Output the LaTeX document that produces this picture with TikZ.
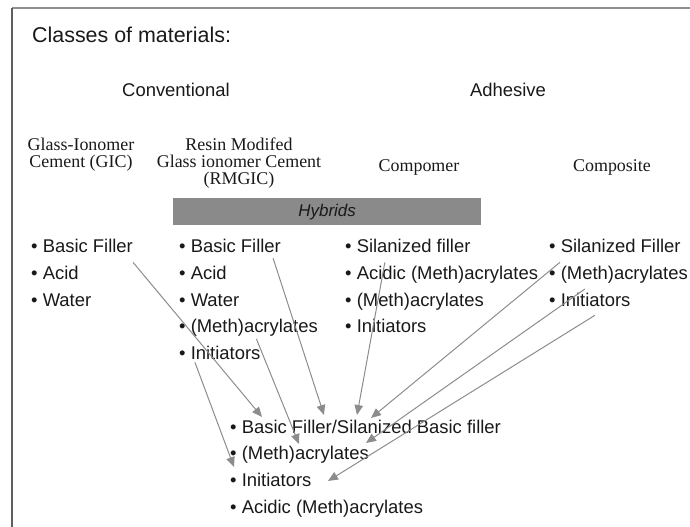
\documentclass[tikz,border=0pt]{standalone}
\usepackage{fontspec}
\setmainfont{Liberation Sans}
\newfontfamily\timesfont{Liberation Serif}
\usetikzlibrary{arrows.meta}
\definecolor{bargray}{RGB}{138,138,138}
\definecolor{arrowgray}{RGB}{140,140,140}
\definecolor{framegray}{RGB}{95,95,95}
\definecolor{inkgray}{RGB}{25,25,25}
\tikzset{
  listitem/.style={anchor=base west,inner sep=0pt,text=inkgray,font=\fontsize{18.5}{20}\selectfont},
  grouphead/.style={anchor=base,inner sep=0pt,text=inkgray,font=\fontsize{18.5}{20}\selectfont},
  classname/.style={align=center,inner sep=0pt,text=inkgray,font=\timesfont\fontsize{18}{17}\selectfont},
  mixarrow/.style={draw=arrowgray,line width=1pt,-{Triangle[length=10pt,width=8.5pt,fill=arrowgray]}}
}
\begin{document}
\begin{tikzpicture}[x=1bp,y=1bp]
\useasboundingbox (0,0) rectangle (690,-527);
\draw [framegray!70,line width=1.2pt] (12,-8) -- (690,-8);
\draw [framegray,line width=1.5pt] (12,-8) -- (12,-527);
\node [anchor=base west,inner sep=0pt,text=inkgray,font=\fontsize{21.5}{24}\selectfont] (title) at (32,-43) {Classes of materials:};
\node [grouphead] (conv) at (176,-97) {Conventional};
\node [grouphead] (adh) at (508,-97) {Adhesive};
\node [classname] (gic) at (81,-155) {Glass-Ionomer\\Cement (GIC)};
\node [classname] (rmgic) at (239,-163.5) {Resin Modifed\\Glass ionomer Cement\\(RMGIC)};
\node [classname] (compomer) at (419,-167) {Compomer};
\node [classname] (composite) at (612,-167) {Composite};
\node [anchor=north west,fill=bargray,minimum width=309,minimum height=27,inner sep=0pt,text=inkgray,font=\itshape\fontsize{17}{19}\selectfont] (hybrids) at (173,-198) {Hybrids};
\node [listitem] (gicBF) at (31,-253) {• Basic Filler};
\node [listitem] (gicAc) at (31,-279) {• Acid};
\node [listitem] (gicWa) at (31,-306) {• Water};
\node [listitem] (rmBF) at (179,-253) {• Basic Filler};
\node [listitem] (rmAc) at (179,-279) {• Acid};
\node [listitem] (rmWa) at (179,-306) {• Water};
\node [listitem] (rmMA) at (179,-332) {• (Meth)acrylates};
\node [listitem] (rmIn) at (179,-359) {• Initiators};
\node [listitem] (cmSF) at (345,-253) {• Silanized filler};
\node [listitem] (cmAM) at (345,-279) {• Acidic (Meth)acrylates};
\node [listitem] (cmMA) at (345,-306) {• (Meth)acrylates};
\node [listitem] (cmIn) at (345,-332) {• Initiators};
\node [listitem] (csSF) at (549,-253) {• Silanized Filler};
\node [listitem] (csMA) at (549,-279) {• (Meth)acrylates};
\node [listitem] (csIn) at (549,-306) {• Initiators};
\node [listitem] (mixFi) at (230,-433) {• Basic Filler/Silanized Basic filler};
\node [listitem] (mixMA) at (230,-459) {• (Meth)acrylates};
\node [listitem] (mixIn) at (230,-486) {• Initiators};
\node [listitem] (mixAM) at (230,-513) {• Acidic (Meth)acrylates};
\coordinate (t1) at (262,-417);
\coordinate (t2) at (324,-415);
\coordinate (t3) at (299,-444);
\coordinate (t4) at (234,-467);
\coordinate (t5) at (357,-415);
\coordinate (t6) at (371,-418);
\coordinate (t7) at (366,-443);
\coordinate (t8) at (328,-481);
\draw [mixarrow] ([yshift=-9]gicBF.south east) -- (t1);
\draw [mixarrow] ([xshift=-8,yshift=-5]rmBF.south east) -- (t2);
\draw [mixarrow] ([xshift=8,yshift=-3]rmMA.south) -- (t3);
\draw [mixarrow] ([xshift=16,yshift=-3]rmIn.south west) -- (t4);
\draw [mixarrow] ([xshift=40,yshift=-9]cmSF.south west) -- (t5);
\draw [mixarrow] ([xshift=11,yshift=-9]csSF.south west) -- (t6);
\draw [mixarrow] ([xshift=36,yshift=-6]csMA.south west) -- (t7);
\draw [mixarrow] ([xshift=46,yshift=-9]csIn.south west) -- (t8);
\end{tikzpicture}
\end{document}
